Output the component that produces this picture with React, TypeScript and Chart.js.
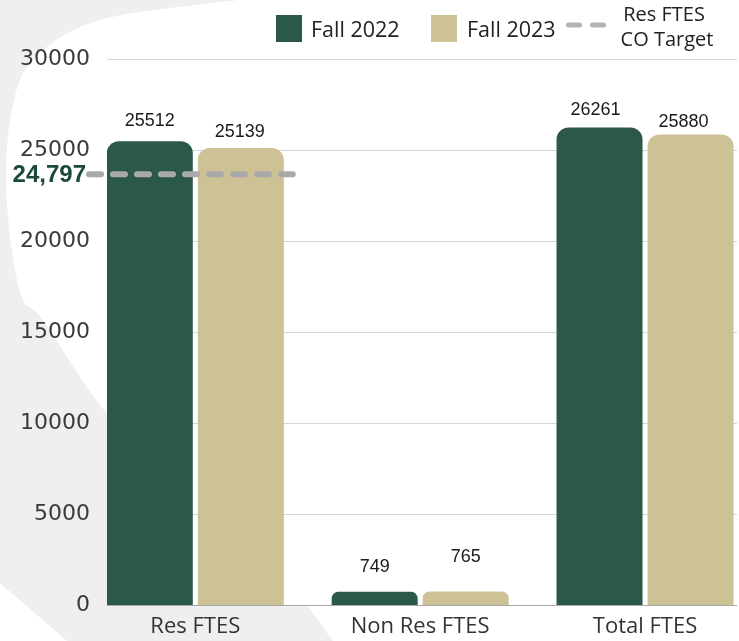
import React, { useEffect, useRef } from 'react';
import { Chart, registerables } from 'chart.js';

Chart.register(...registerables);

// ---- data ----
const categories = ['Res FTES', 'Non Res FTES', 'Total FTES'];
const seriesNames = ['Fall 2022', 'Fall 2023'];
const fall2022 = [25512, 749, 26261];
const fall2023 = [25139, 765, 25880];
const yTicks = [0, 5000, 10000, 15000, 20000, 25000, 30000];
const targetValue = 23700; // where the target line sits in the picture
const targetLabel = '24,797';
const targetLegendLines = ['Res FTES', 'CO Target'];

// ---- style ----
const GREEN = '#2c5849';
const GOLD = '#cdc196';
const SWOOSH = '#efefef';
// data label nudges in px: [dx, lift above bar top]
const nudge2022 = [[0, 15], [0, 20], [-4, 12.5]];
const nudge2023 = [[-1, 11], [0, 30], [-7, 7]];
const swooshInner = [
  [238, 0], [100, 20], [33, 60], [12, 110], [6, 180], [12, 250], [23, 300],
  [43, 320], [107, 413], [200, 500], [293, 590], [333, 641],
];

function drawSmooth(ctx: CanvasRenderingContext2D, pts: number[][]) {
  for (let i = 0; i < pts.length - 1; i++) {
    const p0 = pts[i - 1] || pts[i];
    const p1 = pts[i];
    const p2 = pts[i + 1];
    const p3 = pts[i + 2] || p2;
    ctx.bezierCurveTo(
      p1[0] + (p2[0] - p0[0]) / 6, p1[1] + (p2[1] - p0[1]) / 6,
      p2[0] - (p3[0] - p1[0]) / 6, p2[1] - (p3[1] - p1[1]) / 6,
      p2[0], p2[1]
    );
  }
}

const decorPlugin = {
  id: 'decor',
  beforeDraw(chart: any) {
    const { ctx, chartArea: ca, width, height } = chart;
    ctx.save();
    ctx.fillStyle = '#ffffff';
    ctx.fillRect(0, 0, width, height);
    ctx.beginPath();
    ctx.rect(0, 0, width, height);
    ctx.rect(ca.left, ca.top, ca.right - ca.left, ca.bottom - ca.top);
    ctx.clip('evenodd');
    ctx.beginPath();
    ctx.moveTo(0, 0);
    ctx.lineTo(swooshInner[0][0], swooshInner[0][1]);
    drawSmooth(ctx, swooshInner);
    ctx.lineTo(67, height);
    ctx.lineTo(0, 583);
    ctx.closePath();
    ctx.fillStyle = SWOOSH;
    ctx.fill();
    ctx.restore();
  },
  afterDatasetsDraw(chart: any) {
    const { ctx, chartArea: ca } = chart;
    const yScale = chart.scales.y;
    ctx.save();
    // data labels
    ctx.font = '18px "Liberation Sans", Arial, sans-serif';
    ctx.fillStyle = '#1a1a1a';
    ctx.textAlign = 'center';
    ctx.textBaseline = 'alphabetic';
    [nudge2022, nudge2023].forEach((nudge, di) => {
      const meta = chart.getDatasetMeta(di);
      const vals = di === 0 ? fall2022 : fall2023;
      meta.data.forEach((bar: any, i: number) => {
        ctx.fillText(String(vals[i]), bar.x + nudge[i][0], bar.y - nudge[i][1]);
      });
    });
    // target line
    const y = yScale.getPixelForValue(targetValue);
    const goldBar: any = chart.getDatasetMeta(1).data[0];
    const x1 = goldBar.x + goldBar.width / 2 + 9;
    ctx.strokeStyle = '#a9a9a9';
    ctx.lineWidth = 6;
    ctx.lineCap = 'round';
    ctx.setLineDash([12, 12]);
    ctx.beginPath();
    ctx.moveTo(ca.left - 18, y);
    ctx.lineTo(x1, y);
    ctx.stroke();
    ctx.setLineDash([]);
    ctx.font = 'bold 24px "Liberation Sans", Arial, sans-serif';
    ctx.fillStyle = '#1b4a35';
    ctx.textAlign = 'right';
    ctx.textBaseline = 'middle';
    ctx.fillText(targetLabel, ca.left - 21, y + 1);
    ctx.restore();
  },
  afterDraw(chart: any) {
    const { ctx } = chart;
    ctx.save();
    ctx.textAlign = 'left';
    ctx.textBaseline = 'alphabetic';
    ctx.font = '21.5px "Open Sans", sans-serif';
    ctx.fillStyle = GREEN;
    ctx.fillRect(276, 15, 26, 27);
    ctx.fillStyle = '#222222';
    ctx.fillText(seriesNames[0], 311, 37);
    ctx.fillStyle = GOLD;
    ctx.fillRect(431, 15, 26, 27);
    ctx.fillStyle = '#222222';
    ctx.fillText(seriesNames[1], 467, 37);
    ctx.strokeStyle = '#b3b3b3';
    ctx.lineWidth = 5;
    ctx.lineCap = 'round';
    ctx.setLineDash([11, 13]);
    ctx.beginPath();
    ctx.moveTo(568.5, 25);
    ctx.lineTo(604, 25);
    ctx.stroke();
    ctx.setLineDash([]);
    ctx.font = '20px "Open Sans", sans-serif';
    ctx.textAlign = 'center';
    ctx.fillText(targetLegendLines[0], 664, 21);
    ctx.fillText(targetLegendLines[1], 667, 46);
    ctx.restore();
  },
};

export default function App() {
  const ref = useRef<HTMLCanvasElement | null>(null);
  useEffect(() => {
    if (!ref.current) return;
    const barStyle = {
      borderRadius: { topLeft: 12, topRight: 12, bottomLeft: 0, bottomRight: 0 },
      borderSkipped: 'start',
      categoryPercentage: 0.8094,
      barPercentage: 0.945,
    };
    const chart = new Chart(ref.current, {
      type: 'bar',
      data: {
        datasets: [
          { label: seriesNames[0], data: fall2022.map((v, i) => ({ x: i, y: v })), backgroundColor: GREEN, ...barStyle } as any,
          { label: seriesNames[1], data: fall2023.map((v, i) => ({ x: i, y: v })), backgroundColor: GOLD, ...barStyle } as any,
        ],
      },
      options: {
        responsive: false,
        animation: false,
        devicePixelRatio: 1,
        layout: { padding: { top: 59.5, right: 2, bottom: 0, left: 0 } },
        plugins: { legend: { display: false }, tooltip: { enabled: false } },
        scales: {
          x: {
            type: 'linear',
            min: -0.3927,
            max: 2.409,
            offset: false,
            grid: { display: false, offset: false },
            border: { display: false },
            afterBuildTicks: (s: any) => { s.ticks = categories.map((_, i) => ({ value: i })); },
            afterFit: (s: any) => { s.height = 35.5; },
            ticks: {
              autoSkip: false,
              maxRotation: 0,
              minRotation: 0,
              padding: 0,
              color: '#333333',
              font: { family: '"Open Sans", sans-serif', size: 22 },
              callback: (v: any) => categories[Math.round(v)] ?? '',
            },
          },
          y: {
            min: 0,
            max: 30000,
            afterBuildTicks: (s: any) => { s.ticks = yTicks.map((v) => ({ value: v })); },
            afterFit: (s: any) => { s.width = 107; },
            grid: {
              color: (c: any) => (c.tick && c.tick.value === 0 ? '#a8a8a8' : '#d6d6d6'),
              drawTicks: false,
              lineWidth: 1,
            },
            border: { display: false },
            ticks: {
              padding: 17,
              color: '#3a3a3a',
              font: { family: '"DejaVu Sans", sans-serif', size: 22 },
              callback: (v: any) => String(v),
            },
          },
        },
      } as any,
      plugins: [decorPlugin as any],
    });
    return () => chart.destroy();
  }, []);
  return (
    <div style={{ position: 'absolute', left: 0, top: 0, width: 739, height: 641 }}>
      <canvas ref={ref} width={739} height={641} style={{ display: 'block', width: 739, height: 641 }} />
    </div>
  );
}
